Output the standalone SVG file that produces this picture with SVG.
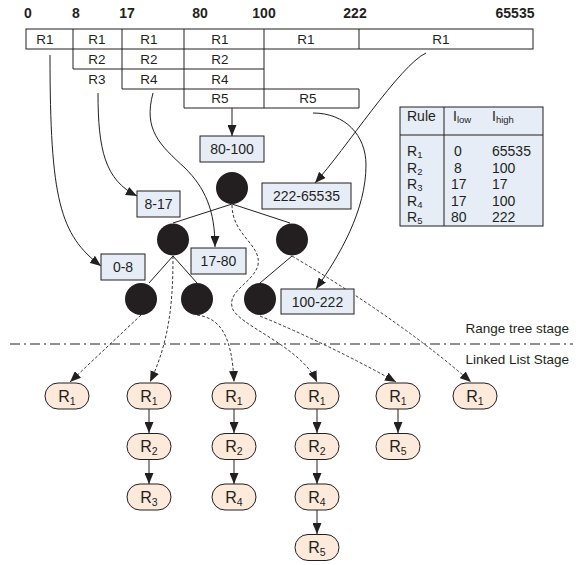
<svg xmlns="http://www.w3.org/2000/svg" width="586" height="565" viewBox="0 0 586 565">
<defs>
<style>
text{font-family:"Liberation Sans",Arial,sans-serif;fill:#231f20}
.hdr{font-size:14px;font-weight:bold;text-anchor:middle}
.cell{font-size:13.5px;text-anchor:middle}
.grid{fill:none;stroke:#231f20;stroke-width:1}
.rng rect{fill:#e7edf7;stroke:#231f20;stroke-width:1}
.rng text{font-size:14px;text-anchor:middle}
.tn{fill:#231f20}
.edge{stroke:#231f20;stroke-width:1;fill:none}
.arr{stroke:#231f20;stroke-width:1;fill:none;marker-end:url(#ah)}
.darr{stroke:#231f20;stroke-width:0.9;fill:none;stroke-dasharray:3,2;marker-end:url(#ah)}
.ll rect{fill:#fdeadb;stroke:#231f20;stroke-width:1}
.ll text{font-size:16px;text-anchor:middle}
.ll tspan{font-size:10.5px}
.tbl{font-size:14px}
.sub{font-size:9.5px}
</style>
<marker id="ah" viewBox="0 0 11 9" refX="11" refY="4.5" markerWidth="11" markerHeight="9" orient="auto" markerUnits="userSpaceOnUse"><path d="M0,0 L11,4.5 L0,9 z" fill="#231f20"/></marker>
</defs>
<rect width="586" height="565" fill="#ffffff"/>

<g id="header">
<text class="hdr" x="28" y="18">0</text>
<text class="hdr" x="76" y="18">8</text>
<text class="hdr" x="127" y="18">17</text>
<text class="hdr" x="200" y="18">80</text>
<text class="hdr" x="264" y="18">100</text>
<text class="hdr" x="355" y="18">222</text>
<text class="hdr" x="515" y="18">65535</text>
</g>

<g id="grid">
<rect class="grid" x="26" y="29" width="507" height="20"/>
<path class="grid" d="M73,29V69H264 M122,29V89H359 M184,29V108 M264,29V108 M359,29V49 M184,108H359V89"/>
<text class="cell" x="45" y="44">R1</text>
<text class="cell" x="97" y="44">R1</text>
<text class="cell" x="149" y="44">R1</text>
<text class="cell" x="220" y="44">R1</text>
<text class="cell" x="306" y="44">R1</text>
<text class="cell" x="441" y="44">R1</text>
<text class="cell" x="97" y="64">R2</text>
<text class="cell" x="149" y="64">R2</text>
<text class="cell" x="220" y="64">R2</text>
<text class="cell" x="97" y="84">R3</text>
<text class="cell" x="149" y="84">R4</text>
<text class="cell" x="220" y="84">R4</text>
<text class="cell" x="220" y="103">R5</text>
<text class="cell" x="308" y="103">R5</text>
</g>

<g id="table">
<rect x="400" y="107" width="143" height="119" fill="#e7edf7" stroke="#231f20" stroke-width="1"/>
<path d="M400,135H543 M444,107V226" stroke="#231f20" stroke-width="1" fill="none"/>
<text class="tbl" x="407" y="121">Rule</text>
<text class="tbl" x="453" y="121">I<tspan class="sub" dy="2">low</tspan></text>
<text class="tbl" x="492" y="121">I<tspan class="sub" dy="2">high</tspan></text>
<text class="tbl" x="407" y="156">R<tspan class="sub" dy="2">1</tspan></text>
<text class="tbl" x="407" y="172.5">R<tspan class="sub" dy="2">2</tspan></text>
<text class="tbl" x="407" y="189">R<tspan class="sub" dy="2">3</tspan></text>
<text class="tbl" x="407" y="205.5">R<tspan class="sub" dy="2">4</tspan></text>
<text class="tbl" x="407" y="222">R<tspan class="sub" dy="2">5</tspan></text>
<text class="tbl" x="454" y="156">0</text>
<text class="tbl" x="454" y="172.5">8</text>
<text class="tbl" x="451" y="189">17</text>
<text class="tbl" x="451" y="205.5">17</text>
<text class="tbl" x="451" y="222">80</text>
<text class="tbl" x="492" y="156">65535</text>
<text class="tbl" x="492" y="172.5">100</text>
<text class="tbl" x="492" y="189">17</text>
<text class="tbl" x="492" y="205.5">100</text>
<text class="tbl" x="492" y="222">222</text>
</g>

<g id="connectors">
<path class="edge" d="M232,204L173,223 M232,204L290,223 M173,256L149,283 M173,256L197,283 M292,256L260,283"/>
<path class="arr" d="M232,108V136"/>
<path class="arr" d="M50,55C50,200 60,235 101,266"/>
<path class="arr" d="M98,93C98,150 105,180 137,196"/>
<path class="arr" d="M153,93C143,130 160,145 185,168C205,188 215,210 215,247"/>
<path class="arr" d="M426,53C400,65 345,150 315,183"/>
<path class="arr" d="M313,113C345,113 366,135 366,165C366,210 340,255 316,289"/>
<path class="darr" d="M232,205C232,235 262,245 258,265C254,282 228,290 232,307C236,325 300,345 317,382"/>
<path class="darr" d="M292,256Q400,320 471,382"/>
<path class="darr" d="M260,316Q330,345 396,382"/>
<path class="darr" d="M141,315L70,382"/>
<path class="darr" d="M173,256C173,300 170,340 150,382"/>
<path class="darr" d="M197,315C220,318 232,335 234,382"/>
<path class="arr" d="M149,409V433"/>
<path class="arr" d="M149,459.5V484"/>
<path class="arr" d="M234,409V433"/>
<path class="arr" d="M234,459.5V484"/>
<path class="arr" d="M317,409V433"/>
<path class="arr" d="M317,459.5V484"/>
<path class="arr" d="M317,510V534"/>
<path class="arr" d="M398,409V433"/>
</g>

<g id="range-80-100" class="rng"><rect x="200" y="136" width="64" height="26"/><text x="232" y="154">80-100</text></g>
<g id="range-222-65535" class="rng"><rect x="262" y="183" width="89" height="26"/><text x="306.5" y="201">222-65535</text></g>
<g id="range-8-17" class="rng"><rect x="137" y="191" width="43" height="26"/><text x="158.5" y="209">8-17</text></g>
<g id="range-0-8" class="rng"><rect x="101" y="254" width="44" height="26"/><text x="123" y="272">0-8</text></g>
<g id="range-17-80" class="rng"><rect x="191" y="248" width="55" height="26"/><text x="218.5" y="266">17-80</text></g>
<g id="range-100-222" class="rng"><rect x="281" y="289" width="73" height="25"/><text x="317.5" y="306.5">100-222</text></g>

<g id="node-root"><circle class="tn" cx="232" cy="188" r="16"/></g>
<g id="node-l"><circle class="tn" cx="173" cy="239.5" r="16"/></g>
<g id="node-r"><circle class="tn" cx="292" cy="239.5" r="16"/></g>
<g id="node-ll"><circle class="tn" cx="141" cy="299" r="16"/></g>
<g id="node-lr"><circle class="tn" cx="197" cy="299" r="16"/></g>
<g id="node-rl"><circle class="tn" cx="260" cy="299" r="16"/></g>

<g id="stage-divider">
<path d="M10,344H573" stroke="#231f20" stroke-width="1" stroke-dasharray="10,4,2,4" fill="none"/>
<text x="569" y="333" font-size="13.5" text-anchor="end">Range tree stage</text>
<text x="569" y="364" font-size="13.5" text-anchor="end">Linked List Stage</text>
</g>

<g id="list1" class="ll">
<rect x="45" y="383" width="44" height="26" rx="13"/><text x="67" y="401.5">R<tspan dy="3">1</tspan></text>
</g>
<g id="list2" class="ll">
<rect x="127" y="383" width="44" height="26" rx="13"/><text x="149" y="401.5">R<tspan dy="3">1</tspan></text>
<rect x="127" y="433.5" width="44" height="26" rx="13"/><text x="149" y="452">R<tspan dy="3">2</tspan></text>
<rect x="127" y="484" width="44" height="26" rx="13"/><text x="149" y="502.5">R<tspan dy="3">3</tspan></text>
</g>
<g id="list3" class="ll">
<rect x="212" y="383" width="44" height="26" rx="13"/><text x="234" y="401.5">R<tspan dy="3">1</tspan></text>
<rect x="212" y="433.5" width="44" height="26" rx="13"/><text x="234" y="452">R<tspan dy="3">2</tspan></text>
<rect x="212" y="484" width="44" height="26" rx="13"/><text x="234" y="502.5">R<tspan dy="3">4</tspan></text>
</g>
<g id="list4" class="ll">
<rect x="295" y="383" width="44" height="26" rx="13"/><text x="317" y="401.5">R<tspan dy="3">1</tspan></text>
<rect x="295" y="433.5" width="44" height="26" rx="13"/><text x="317" y="452">R<tspan dy="3">2</tspan></text>
<rect x="295" y="484" width="44" height="26" rx="13"/><text x="317" y="502.5">R<tspan dy="3">4</tspan></text>
<rect x="295" y="534.5" width="44" height="26" rx="13"/><text x="317" y="553">R<tspan dy="3">5</tspan></text>
</g>
<g id="list5" class="ll">
<rect x="376" y="383" width="44" height="26" rx="13"/><text x="398" y="401.5">R<tspan dy="3">1</tspan></text>
<rect x="376" y="433.5" width="44" height="26" rx="13"/><text x="398" y="452">R<tspan dy="3">5</tspan></text>
</g>
<g id="list6" class="ll">
<rect x="453" y="383" width="44" height="26" rx="13"/><text x="475" y="401.5">R<tspan dy="3">1</tspan></text>
</g>
</svg>
